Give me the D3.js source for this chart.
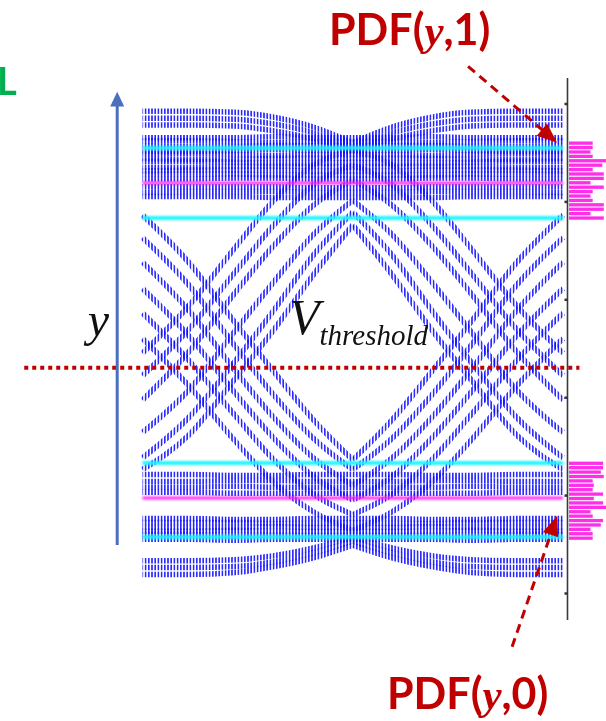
<!DOCTYPE html>
<html>
<head>
<meta charset="utf-8">
<script src="https://cdn.jsdelivr.net/npm/d3@7"></script>
<style>
  html, body { margin: 0; padding: 0; background: #ffffff; }
  svg { display: block; }
</style>
</head>
<body>
<script>
// ---- Eye diagram data -------------------------------------------------
// Time grid (in unit intervals, measured from the sampling instant) at which
// every half-trace is sampled. Each half-trace is drawn to the right of the
// sampling instant and mirrored to the left of it.
const halfT = [0, 0.12, 0.24, 0.36, 0.5, 0.64];

// Received voltage (mV) of each half-trace at the halfT instants.
const highOvershoot = [
  [460, 476, 486, 491, 492, 492],
  [455, 470, 479, 484, 485, 485],
  [452, 464, 472, 477, 478, 478]
];
const highFlat = [
  [465, 465, 466, 465, 465, 465],
  [461, 461, 460, 461, 462, 462],
  [456, 457, 457, 456, 456, 457],
  [452, 452, 453, 452, 451, 451],
  [448, 448, 447, 448, 449, 449],
  [444, 444, 444, 443, 443, 444],
  [440, 439, 439, 440, 441, 441],
  [435, 436, 436, 436, 435, 435],
  [431, 431, 432, 432, 432, 431],
  [427, 427, 427, 428, 428, 428],
  [423, 423, 424, 424, 423, 423]
];
const highInner = [
  [414, 414, 415, 415, 415, 415],
  [409, 409, 410, 410, 410, 409],
  [404, 404, 404, 405, 405, 405]
];
const falling = [
  [452, 437, 401, 352, 293, 245],
  [437, 417, 376, 327, 269, 222],
  [422, 396, 355, 306, 246, 197],
  [401, 366, 318, 267, 207, 164],
  [389, 345, 289, 236, 179, 138],
  [376, 325, 269, 218, 161, 126]
];
const rising = [
  [136, 177, 226, 277, 338, 386],
  [126, 158, 202, 253, 315, 363],
  [110, 138, 179, 228, 289, 338],
  [95, 119, 158, 205, 263, 311],
  [80, 101, 136, 182, 238, 286],
  [64, 83, 113, 156, 212, 260]
];
const lowOvershoot = [
  [57, 46, 38, 34, 33, 33],
  [53, 41, 32, 27, 26, 26],
  [49, 36, 27, 21, 19, 19]
];
const lowFlat = [
  [76, 76, 75, 75, 76, 76],
  [72, 71, 71, 72, 72, 72],
  [67, 67, 68, 67, 67, 67],
  [63, 63, 63, 64, 63, 63],
  [59, 59, 59, 59, 60, 60],
  [55, 55, 55, 54, 55, 55]
];
const lowInner = [
  [121, 121, 120, 120, 121, 121],
  [114, 114, 115, 115, 114, 114],
  [108, 108, 108, 109, 108, 108],
  [102, 102, 102, 102, 103, 103]
];

// Statistics lines (mV): mean level (magenta) and mean +/- sigma (cyan)
const meanLevels = [418.8, 97];
const sigmaLevels = [454.5, 383, 132.7, 57.2];
const thresholdLevel = 230;

// Histograms of the sampled voltage for a received "1" and a received "0"
const pdf1Bins = [459.5, 455, 450.5, 446, 441.5, 437, 432.5, 428, 423.5, 419, 414.5, 410, 405.5, 401, 396.5, 392, 387.5, 383];
const pdf1Counts = [6.4, 6.4, 5.8, 6.4, 10, 9, 6.4, 9.4, 9.4, 5.8, 9.4, 6.4, 5.8, 6.4, 9.4, 9.4, 5.8, 9.4];
const pdf0Bins = [132.5, 128, 123.5, 119, 114.5, 110, 105.5, 101, 96.5, 92, 87.5, 83, 78.5, 74, 69.5, 65, 60.5, 56];
const pdf0Counts = [9.2, 9.2, 8.6, 9.4, 6.4, 6.7, 6.4, 9.2, 6.7, 9.2, 10, 5.8, 6.4, 9.2, 8.6, 5.8, 6.4, 6.4];
const binWidth = 4.5;

const axisTicks = [0, 100, 200, 300, 400, 500];
const axisExtent = [-27.6, 526];

// ---- Layout -------------------------------------------------------------
const W = 606, H = 721;
const x = d3.scaleLinear().domain([-0.64, 0.64]).range([142.5, 563]);
const y = d3.scaleLinear().domain([0, 600]).range([593, 5.6]);
const count = d3.scaleLinear().domain([0, 10]).range([569, 606]);

const svg = d3.select("body").append("svg")
  .attr("width", W).attr("height", H)
  .attr("viewBox", `0 0 ${W} ${H}`);
svg.append("rect").attr("width", W).attr("height", H).attr("fill", "#ffffff");

const defs = svg.append("defs");
const scan = defs.append("pattern")
  .attr("id", "scan").attr("patternUnits", "userSpaceOnUse")
  .attr("width", 3.2).attr("height", 12);
scan.append("rect").attr("x", 0.9).attr("y", 0).attr("width", 1.4).attr("height", 12).attr("fill", "#0a0aff");

function addBlur(id, sd) {
  const f = defs.append("filter").attr("id", id)
    .attr("x", "-5%").attr("y", "-20%").attr("width", "110%").attr("height", "140%");
  f.append("feGaussianBlur").attr("stdDeviation", sd);
}
addBlur("soft", 0.45);
addBlur("glow", 0.8);
addBlur("barSoft", 0.6);

// ---- Traces -------------------------------------------------------------
const traceLine = d3.line()
  .x(d => x(d[0])).y(d => y(d[1]))
  .curve(d3.curveMonotoneX);

const families = [highOvershoot, highFlat, highInner, falling, rising, lowOvershoot, lowFlat, lowInner];
const halves = [];
families.forEach(fam => fam.forEach(v => {
  const right = halfT.map((t, i) => [t, v[i]]);
  const left = halfT.map((t, i) => [-t, v[i]]).reverse();
  halves.push(left, right);
}));

svg.append("g").attr("filter", "url(#soft)")
  .selectAll("path").data(halves).join("path")
  .attr("d", traceLine)
  .attr("fill", "none")
  .attr("stroke", "url(#scan)")
  .attr("stroke-width", 5.5);

// ---- Mean / sigma lines ---------------------------------------------------
const levelG = svg.append("g").attr("filter", "url(#glow)");
levelG.selectAll("line.sigma").data(sigmaLevels).join("line")
  .attr("class", "sigma")
  .attr("x1", x(-0.64)).attr("x2", x(0.64))
  .attr("y1", d => y(d)).attr("y2", d => y(d))
  .attr("stroke", "#19f5ff").attr("stroke-width", 4).attr("opacity", 0.95);
levelG.selectAll("line.mean").data(meanLevels).join("line")
  .attr("class", "mean")
  .attr("x1", x(-0.64)).attr("x2", x(0.64))
  .attr("y1", d => y(d)).attr("y2", d => y(d))
  .attr("stroke", "#ff10f0").attr("stroke-width", 3).attr("opacity", 0.9);

// ---- Threshold ------------------------------------------------------------
svg.append("line")
  .attr("x1", x(-1.0)).attr("x2", x(0.69))
  .attr("y1", y(thresholdLevel)).attr("y2", y(thresholdLevel))
  .attr("stroke", "#c00000").attr("stroke-width", 4)
  .attr("stroke-dasharray", "4 4");

// ---- Histogram axis and bars ---------------------------------------------
const axisX = count(0) - 1.5;
svg.append("line")
  .attr("x1", axisX).attr("x2", axisX)
  .attr("y1", y(axisExtent[0])).attr("y2", y(axisExtent[1]))
  .attr("stroke", "#3a3a3a").attr("stroke-width", 1.6);
const axisG = svg.append("g").attr("transform", `translate(${axisX},0)`)
  .call(d3.axisLeft(y).tickValues(axisTicks).tickSize(3).tickFormat(""));
axisG.select(".domain").remove();
axisG.selectAll(".tick line").attr("stroke", "#333").attr("stroke-width", 2.5);

const barH = y(0) - y(binWidth) - 1.1;
const barG = svg.append("g").attr("filter", "url(#barSoft)");
function drawPdf(bins, counts) {
  barG.selectAll(null).data(bins.map((b, i) => [b, counts[i]])).join("rect")
    .attr("x", count(0))
    .attr("y", d => y(d[0]) - barH / 2)
    .attr("width", d => count(d[1]) - count(0))
    .attr("height", barH)
    .attr("fill", "#ff2ee8");
}
drawPdf(pdf1Bins, pdf1Counts);
drawPdf(pdf0Bins, pdf0Counts);

// ---- Annotation arrows -----------------------------------------------------
const arrows = [
  { from: [0.351, 538], to: [0.622, 460] },
  { from: [0.485, -55], to: [0.622, 79] }
];
arrows.forEach(a => {
  const x1 = x(a.from[0]), y1 = y(a.from[1]);
  const x2 = x(a.to[0]), y2 = y(a.to[1]);
  const dx = x2 - x1, dy = y2 - y1, len = Math.hypot(dx, dy);
  const ux = dx / len, uy = dy / len;
  const headL = 20, headW = 8;
  const bx = x2 - ux * headL, by = y2 - uy * headL;
  svg.append("line")
    .attr("x1", x1).attr("y1", y1).attr("x2", bx + ux * 2).attr("y2", by + uy * 2)
    .attr("stroke", "#c00000").attr("stroke-width", 3)
    .attr("stroke-dasharray", "9 6");
  svg.append("path")
    .attr("d", `M${x2},${y2} L${bx - uy * headW},${by + ux * headW} L${bx + uy * headW},${by - ux * headW} Z`)
    .attr("fill", "#c00000");
});

// ---- Vertical voltage arrow -------------------------------------------------
const yArrowX = x(-0.717);
svg.append("line")
  .attr("x1", yArrowX).attr("x2", yArrowX)
  .attr("y1", y(49)).attr("y2", y(498))
  .attr("stroke", "#4a6fbe").attr("stroke-width", 3);
svg.append("path")
  .attr("d", `M${yArrowX},${y(512)} L${yArrowX - 7},${y(497)} L${yArrowX + 7},${y(497)} Z`)
  .attr("fill", "#4a6fbe");

// ---- Labels ----------------------------------------------------------------
svg.append("text")
  .attr("x", 109).attr("y", 336)
  .attr("text-anchor", "end")
  .attr("font-family", "'Liberation Serif', 'DejaVu Serif', serif")
  .attr("font-style", "italic").attr("font-size", 48)
  .attr("fill", "#111").text("y");

const vt = svg.append("text")
  .attr("x", 289).attr("y", 334)
  .attr("font-family", "'Liberation Serif', 'DejaVu Serif', serif")
  .attr("font-style", "italic").attr("fill", "#111");
vt.append("tspan").attr("font-size", 50).text("V");
vt.append("tspan").attr("font-size", 29).attr("dy", 11).text("threshold");

function pdfLabel(px, py, digit) {
  const t = svg.append("text")
    .attr("x", px).attr("y", py)
    .attr("fill", "#c00000")
    .attr("font-family", "Lato, 'Open Sans', sans-serif")
    .attr("font-weight", 700).attr("font-size", 43);
  t.append("tspan").text("PDF(");
  t.append("tspan")
    .attr("font-family", "'Liberation Serif', 'DejaVu Serif', serif")
    .attr("font-style", "italic").text("y");
  t.append("tspan").text("," + digit + ")");
}
pdfLabel(329, 45, 1);
pdfLabel(387, 709, 0);

svg.append("text")
  .attr("x", -3).attr("y", 95)
  .attr("font-family", "Lato, 'Open Sans', sans-serif")
  .attr("font-weight", 700).attr("font-size", 38)
  .attr("fill", "#00b050").text("L");
</script>
</body>
</html>
